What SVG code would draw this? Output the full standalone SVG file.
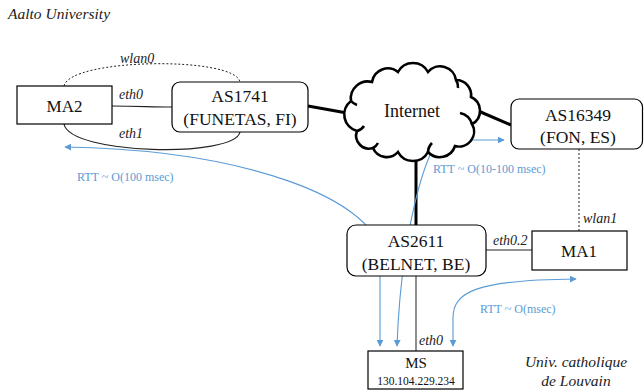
<svg xmlns="http://www.w3.org/2000/svg" width="644" height="390" viewBox="0 0 644 390">
<style>
.box{fill:#fff;stroke:#000;stroke-width:1.2}
.big{font-family:"Liberation Serif",serif;font-size:17.5px;fill:#111;text-anchor:middle}
.lbl{font-family:"Liberation Serif",serif;font-style:italic;font-size:14px;fill:#222}
.rtt{font-family:"Liberation Serif",serif;font-size:12px;fill:#5b9bd5}
.blue{fill:none;stroke:#5b9bd5;stroke-width:1.1}
.thick{stroke:#000;stroke-width:3;fill:none}
.thin{stroke:#222;stroke-width:1.2;fill:none}
.dot{stroke:#222;stroke-width:1;stroke-dasharray:2 2;fill:none}
</style>
<defs>
<marker id="ah" viewBox="0 0 10 10" refX="9" refY="5" markerWidth="7" markerHeight="7" markerUnits="userSpaceOnUse" orient="auto-start-reverse">
<path d="M0,0 L10,5 L0,10 Z" fill="#5b9bd5"/>
</marker>
</defs>
<text x="8" y="19" class="lbl" style="font-size:15.5px">Aalto University</text>
<g id="connectors">
<path class="dot" d="M64,86 C70,58 235,56 240,82"/>
<path class="thin" d="M64,124 C70,155 235,158 240,132"/>
<path class="thin" d="M112,106 C140,106 150,107 172,107"/>
<path class="thick" d="M308,106 L347,113"/>
<path class="thick" d="M476,110 L511,125"/>
<path class="thick" d="M416,158 L416,226"/>
<path class="thin" d="M416,276 L416,351" style="stroke:#444"/>
<path class="thin" d="M486,250 L532,250"/>
<path class="dot" d="M579,149 L579,231"/>
<path class="blue" marker-start="url(#ah)" marker-end="url(#ah)" d="M380,346 L380,250 C370,200 250,150 65,147"/>
<path class="blue" marker-start="url(#ah)" marker-end="url(#ah)" d="M397,346 C400,260 415,190 430,155 Q437,140 455,140 L504,140"/>
<path class="blue" marker-start="url(#ah)" marker-end="url(#ah)" d="M453,346 L453,318 C453,292 475,280 576,279"/>
</g>
<g id="internet">
<path d="M357,131 A17,17 0 0 1 351,101 A17,17 0 0 1 372,82 A16,16 0 0 1 398,72 A17,17 0 0 1 428,72 A16,16 0 0 1 456,80 A15,15 0 0 1 471,97 A15,15 0 0 1 472,124 A15,15 0 0 1 455,146 A16,16 0 0 1 428,152 A17,17 0 0 1 398,152 A15,15 0 0 1 373,148 A13,13 0 0 1 357,131 Z" fill="#fff" stroke="#000" stroke-width="2.6"/>
<path d="M357,131 A12,12 0 0 0 364,126 M351,101 A14,14 0 0 0 357,105 M456,80 A12,12 0 0 1 458,88 M472,124 A16,16 0 0 0 460,113 M428,152 A14,14 0 0 1 432,143 M373,148 A12,12 0 0 0 378,143" fill="none" stroke="#000" stroke-width="2.6"/>
<text x="412" y="117" class="big" style="font-size:18px">Internet</text>
</g>
<g id="ma2">
<rect class="box" x="17" y="86" width="95" height="38"/>
<text x="64.5" y="112" class="big" style="font-size:17px">MA2</text>
</g>
<g id="as1741">
<rect class="box" x="172" y="82" width="136" height="50" rx="8"/>
<text x="240" y="102" class="big">AS1741</text>
<text x="240" y="125" class="big">(FUNETAS, FI)</text>
</g>
<g id="as16349">
<rect class="box" x="511" y="99" width="131.5" height="50" rx="8"/>
<text x="578" y="121" class="big">AS16349</text>
<text x="578" y="143" class="big">(FON, ES)</text>
</g>
<g id="as2611">
<rect class="box" x="347" y="225" width="139" height="51" rx="9"/>
<text x="416" y="247" class="big">AS2611</text>
<text x="416" y="270" class="big">(BELNET, BE)</text>
</g>
<g id="ma1">
<rect class="box" x="532" y="231" width="95" height="39"/>
<text x="579" y="257" class="big" style="font-size:17px">MA1</text>
</g>
<g id="ms">
<rect class="box" x="368" y="351" width="95" height="38"/>
<text x="416" y="368" class="big" style="font-size:15px">MS</text>
<text x="416" y="385" class="big" style="font-size:11.5px">130.104.229.234</text>
</g>
<g id="labels">
<text x="120" y="63" class="lbl">wlan0</text>
<text x="119" y="99" class="lbl">eth0</text>
<text x="119" y="138" class="lbl">eth1</text>
<text x="493" y="245" class="lbl">eth0.2</text>
<text x="583" y="223" class="lbl">wlan1</text>
<text x="419" y="345" class="lbl">eth0</text>
<text x="576" y="367" class="lbl" style="font-size:15.5px;text-anchor:middle">Univ. catholique</text>
<text x="576" y="386" class="lbl" style="font-size:15.5px;text-anchor:middle">de Louvain</text>
<text x="77" y="181" class="rtt">RTT ~ O(100 msec)</text>
<text x="433" y="173" class="rtt">RTT ~ O(10-100 msec)</text>
<text x="480" y="313" class="rtt">RTT ~ O(msec)</text>
</g>
</svg>
